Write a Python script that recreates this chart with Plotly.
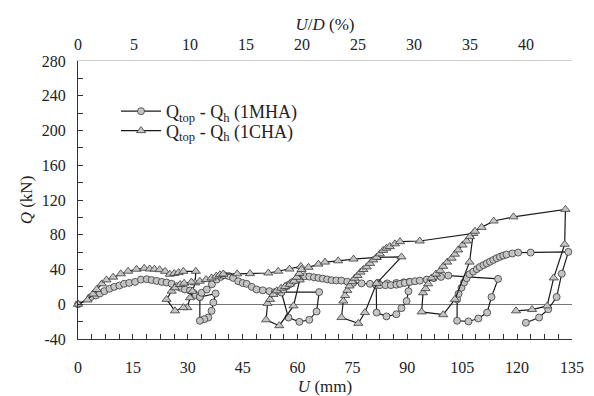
import plotly.graph_objects as go

# ---------------- data ----------------
# 1MHA series: (U mm, Q kN)
mha_points = [
    (0, 0), (3.4, 8.0), (4.9, 10.1), (6.0, 12.4), (7.2, 15.1), (8.6, 17.8), (9.9, 20.0),
    (11.3, 21.5), (12.6, 23.5), (14.0, 24.6), (15.6, 25.7), (17.2, 28.4), (18.8, 28.8),
    (20.1, 27.9), (21.5, 26.9), (22.9, 25.7), (24.2, 25.0), (25.6, 23.5), (27.0, 20.8),
    (28.0, 18.9), (29.2, 17.0), (30.6, 15.8), (31.5, 13.2), (32.2, 10.5), (33.3, 8.3),
    (37.6, 12.4), (37.0, 2.0), (36.5, -7.6), (35.6, -15.3), (34.5, -17.2), (33.3, -19.0),
    (33.3, 8.3), (33.8, 13.2), (35.2, 17.0), (36.6, 23.0), (37.9, 28.4), (39.0, 31.5),
    (39.9, 33.4), (41.2, 32.5), (42.4, 30.3), (43.8, 26.5), (45.0, 24.5), (46.1, 23.5),
    (47.5, 20.0), (48.8, 17.0), (50.5, 16.0), (52.3, 15.1), (53.8, 14.0), (65.9, 14.0),
    (65.2, -8.4), (63.2, -17.9), (60.5, -20.2), (57.5, -15.3), (55.6, 13.5), (56.2, 17.0),
    (57.0, 20.8), (57.8, 23.0), (58.6, 25.5), (59.8, 28.4), (60.8, 30.5), (62.0, 32.2),
    (63.2, 31.8), (64.5, 31.0), (65.7, 30.3), (66.9, 29.5), (68.1, 28.6), (69.3, 27.7),
    (70.6, 27.4), (72.0, 27.2), (73.6, 25.9), (75.2, 24.6), (77.5, 24.0), (79.8, 23.5),
    (82.0, 24.6), (84.5, 24.0), (87.0, 24.5), (89.0, 25.2), (90.5, 25.7), (90.3, 15.0),
    (89.8, 3.7), (88.4, -4.5), (87.0, -11.5), (84.3, -14.0), (81.6, -9.6), (81.5, 22.0),
    (82.5, 22.0), (84.0, 22.0), (85.5, 22.0), (87.0, 22.5), (88.0, 23.5), (89.3, 24.6),
    (90.7, 25.7), (92.1, 26.5), (93.4, 27.2), (95.3, 28.4), (97.2, 30.0), (99.2, 31.5),
    (101.2, 33.0), (114.8, 29.2), (113.0, 8.3), (111.8, -9.6), (109.4, -16.4),
    (106.7, -19.8), (103.6, -19.0), (103.6, 5.6), (104.0, 12.0), (104.8, 19.0),
    (105.5, 25.0), (106.2, 30.0), (107.0, 34.5), (108.0, 37.5), (109.0, 40.5),
    (109.8, 42.8), (110.8, 45.0), (111.7, 47.0), (112.6, 49.0), (113.5, 51.0),
    (114.4, 53.0), (115.3, 54.6), (116.2, 56.0), (117.1, 57.2), (118.7, 58.5),
    (120.3, 59.5), (123.7, 59.5), (134.0, 60.3), (132.2, 35.2), (130.8, 8.3),
    (128.5, -5.8), (126.0, -15.3), (122.4, -21.3),
]

# 1CHA series: (U mm, Q kN)
cha_points = [
    (0, 0), (2.6, 4.9), (4.1, 11.8), (5.1, 17.0), (6.5, 23.5), (7.8, 28.0), (9.6, 31.2),
    (11.7, 35.0), (13.7, 38.0), (16.0, 40.3), (18.1, 41.4), (19.6, 40.6), (20.9, 40.4),
    (22.3, 39.8), (23.8, 37.9), (25.1, 34.6), (26.3, 35.4), (27.5, 36.5), (28.8, 37.9),
    (32.2, 37.9), (32.0, 24.6), (31.3, 15.0), (30.6, 7.5), (29.9, -3.9), (28.8, -3.9),
    (26.5, -7.6), (24.2, 5.6), (25.6, 15.1), (26.5, 18.9), (27.9, 22.7), (29.0, 24.2),
    (31.0, 25.5), (33.3, 26.5), (35.0, 28.5), (36.5, 30.3), (37.8, 32.5), (38.8, 34.0),
    (39.7, 34.8), (43.5, 35.0), (47.0, 35.2), (52.0, 36.0), (54.7, 38.0), (57.8, 40.5),
    (60.9, 43.6), (60.6, 28.0), (58.9, -1.9), (55.0, -24.7), (51.4, -17.9), (51.8, 1.0),
    (52.5, 5.6), (53.4, 11.3), (54.3, 15.5), (55.5, 18.5), (56.6, 20.5), (57.9, 23.0),
    (59.0, 26.5), (59.8, 31.0), (60.5, 35.5), (61.1, 40.0), (63.0, 42.5), (65.7, 46.2),
    (67.5, 48.5), (71.1, 50.0), (75.3, 52.0), (81.6, 53.9), (88.4, 54.5), (81.6, 24.0),
    (78.4, -9.6), (76.6, -22.0), (72.0, -15.3), (72.5, 3.7), (73.0, 10.0), (73.6, 16.0),
    (74.2, 21.0), (74.9, 26.0), (75.6, 30.0), (76.4, 33.0), (77.2, 37.0), (78.0, 40.0),
    (78.9, 43.0), (79.8, 47.0), (80.7, 51.0), (81.6, 54.0), (82.5, 58.0), (83.4, 62.0),
    (84.3, 64.5), (85.2, 66.4), (86.6, 69.5), (88.0, 72.0), (93.4, 72.8), (108.0, 81.5),
    (107.0, 48.5), (103.0, 5.6), (99.8, -12.0), (93.9, -8.8), (94.3, 13.2), (95.0, 18.0),
    (95.7, 23.5), (96.6, 30.3), (97.8, 34.8), (99.0, 38.6), (99.8, 43.6), (100.9, 48.5),
    (102.1, 53.0), (103.0, 57.6), (103.9, 62.5), (105.1, 68.2), (106.2, 72.8),
    (107.1, 77.8), (108.5, 84.0), (110.3, 88.5), (113.6, 95.8), (119.0, 100.6),
    (133.2, 109.2), (133.0, 69.0), (130.0, 30.3), (128.2, -1.9), (124.1, -6.1),
    (119.7, -7.6),
]

x_ticks = [0, 15, 30, 45, 60, 75, 90, 105, 120, 135]
y_ticks = [-40, 0, 40, 80, 120, 160, 200, 240, 280]
y_tick_text = ["-40", "0", "40", "80", "120", "160", "200", "240", "280"]
ud_ticks = [0, 5, 10, 15, 20, 25, 30, 35, 40]
pile_diameter_mm = 306.0

names = ["Q<sub>top</sub> - Q<sub>h</sub> (1MHA)", "Q<sub>top</sub> - Q<sub>h</sub> (1CHA)"]

# ---------------- figure ----------------
FONT = "Liberation Serif, Times New Roman, serif"
fig = go.Figure()

def add_series(points, name, symbol, size, legend):
    fig.add_trace(go.Scatter(
        x=[p[0] for p in points], y=[p[1] for p in points],
        mode="lines+markers", name=name, cliponaxis=False, legend=legend,
        line=dict(color="#1a1a1a", width=1.2),
        marker=dict(symbol=symbol, size=size, color="#c4c4c4",
                    line=dict(color="#3a3a3a", width=0.8)),
    ))

add_series(mha_points, names[0], "circle", 7, "legend")
add_series(cha_points, names[1], "triangle-up", 8, "legend2")

x_top = 135 / pile_diameter_mm * 100

# invisible trace that carries the top U/D axis
fig.add_trace(go.Scatter(x=[0, x_top], y=[None, None], xaxis="x2",
                         showlegend=False, hoverinfo="skip", mode="lines"))

legend_style = dict(xanchor="left", yanchor="top", bgcolor="rgba(0,0,0,0)",
                    itemwidth=40, font=dict(family=FONT, size=18, color="#222"))

# the page body has an 8 px default margin, so the margins below compensate for it
fig.update_layout(
    width=594, height=396,
    margin=dict(l=70, r=30, t=53, b=62),
    paper_bgcolor="white", plot_bgcolor="white",
    font=dict(family=FONT, size=16, color="#222"),
    showlegend=True,
    legend=dict(x=0.077, y=0.885, **legend_style),
    legend2=dict(x=0.077, y=0.815, **legend_style),
    xaxis=dict(
        range=[0, 135], tickvals=x_ticks, ticks="inside", ticklen=5, tickcolor="#333",
        showline=True, linecolor="#333", linewidth=1, showgrid=False, zeroline=False,
        minor=dict(dtick=3.75, ticks="inside", ticklen=5, tickcolor="#333", showgrid=False),
        ticklabelstandoff=14,
        title=dict(text="<i>U</i> (mm)", font=dict(family=FONT, size=17), standoff=4),
    ),
    xaxis2=dict(
        range=[0, x_top], overlaying="x", side="top", tickvals=ud_ticks,
        ticks="outside", ticklen=4, tickcolor="rgba(0,0,0,0)",
        showline=True, linecolor="#d0d0d0", linewidth=1, showgrid=False, zeroline=False,
        title=dict(text="<i>U</i>/<i>D</i> (%)", font=dict(family=FONT, size=17), standoff=0),
    ),
    yaxis=dict(
        range=[-40, 280], tickvals=y_ticks, ticktext=y_tick_text,
        ticks="inside", ticklen=5, tickcolor="#333",
        showline=True, linecolor="#333", linewidth=1, showgrid=False,
        zeroline=True, zerolinecolor="#777", zerolinewidth=1,
        minor=dict(dtick=20, ticks="inside", ticklen=5, tickcolor="#333", showgrid=False),
        ticklabelstandoff=8,
        title=dict(text="<i>Q</i> (kN)", font=dict(family=FONT, size=17), standoff=4),
    ),
)

fig.write_html("out.html")
